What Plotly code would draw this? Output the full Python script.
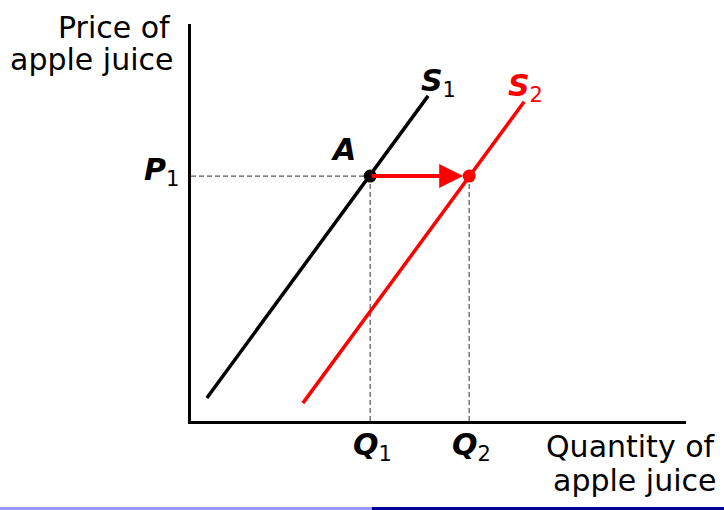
import plotly.graph_objects as go

# supply curves (quantity, price)
s1_q = [0.32, 4.79]
s1_p = [0.58, 8.19]
s2_q = [2.26, 6.73]
s2_p = [0.45, 8.04]

q1 = 3.62
q2 = 5.62
p1 = 6.17

W, H = 724, 510
L, R, T, B = 191, 38, 24, 89
PW, PH = W - L - R, H - T - B


def px_x(x):
    return (x - L) / PW


def px_y(y):
    return (H - B - y) / PH


FONT = "DejaVu Sans"
GRAY = "#555555"

fig = go.Figure()

# dashed guides
dash = dict(color=GRAY, width=1.2, dash="5px,3px")
fig.add_trace(go.Scatter(x=[0, q2], y=[p1, p1], mode="lines", line=dash))
fig.add_trace(go.Scatter(x=[q1, q1], y=[p1, 0], mode="lines", line=dash))
fig.add_trace(go.Scatter(x=[q2, q2], y=[p1, 0], mode="lines", line=dash))

# supply curves
fig.add_trace(go.Scatter(x=s1_q, y=s1_p, mode="lines", line=dict(color="black", width=3.5)))
fig.add_trace(go.Scatter(x=s2_q, y=s2_p, mode="lines", line=dict(color="red", width=3.5)))

# shift arrow
fig.add_annotation(x=q2, y=p1, ax=q1, ay=p1, xref="x", yref="y", axref="x", ayref="y",
                   text="", showarrow=True, arrowhead=2, arrowsize=1.2, arrowwidth=4,
                   arrowcolor="red", standoff=6)

# points
fig.add_trace(go.Scatter(x=[q1], y=[p1], mode="markers", marker=dict(color="black", size=13)))
fig.add_trace(go.Scatter(x=[q2], y=[p1], mode="markers", marker=dict(color="red", size=13)))

lab = dict(family=FONT, size=30, color="black")
fig.add_annotation(x=0, y=p1, xref="x", yref="y", text="<b><i>P</i></b><sub>1</sub>",
                   showarrow=False, xanchor="right", yanchor="middle", xshift=-10, yshift=5, font=lab)
fig.add_annotation(x=q1, y=0, xref="x", yref="y", text="<b><i>Q</i></b><sub>1</sub>",
                   showarrow=False, xanchor="center", yanchor="top", yshift=-4, xshift=2, font=lab)
fig.add_annotation(x=q2, y=0, xref="x", yref="y", text="<b><i>Q</i></b><sub>2</sub>",
                   showarrow=False, xanchor="center", yanchor="top", yshift=-4, xshift=2, font=lab)
fig.add_annotation(x=q1, y=p1, xref="x", yref="y", text="<b><i>A</i></b>",
                   showarrow=False, xanchor="center", yanchor="middle", xshift=-27, yshift=27, font=lab)
fig.add_annotation(x=s1_q[1], y=s1_p[1], xref="x", yref="y", text="<b><i>S</i></b><sub>1</sub>",
                   showarrow=False, xanchor="center", yanchor="bottom", xshift=10, yshift=-8, font=lab)
fig.add_annotation(x=s2_q[1], y=s2_p[1], xref="x", yref="y", text="<b><i>S</i></b><sub>2</sub>",
                   showarrow=False, xanchor="center", yanchor="bottom", xshift=1, yshift=-7,
                   font=dict(family=FONT, size=30, color="red"))

# axis titles, one annotation per line to keep the tight line spacing
ttl = dict(family=FONT, size=30, color="black")
for txt, xr, base in [("Price of", 173, 39), ("apple juice", 175, 71),
                      ("Quantity of", 718, 457), ("apple juice", 718, 491)]:
    fig.add_annotation(x=px_x(xr), y=px_y(base - 11), xref="paper", yref="paper", text=txt,
                       showarrow=False, xanchor="right", yanchor="middle", font=ttl)

# footer bar
fig.add_shape(type="rect", xref="paper", yref="paper", x0=px_x(0), x1=px_x(372),
              y0=px_y(510), y1=px_y(507), fillcolor="#9999ff", line_width=0)
fig.add_shape(type="rect", xref="paper", yref="paper", x0=px_x(372), x1=px_x(724),
              y0=px_y(510), y1=px_y(507), fillcolor="#000099", line_width=0)

axis = dict(range=[0, 10], showline=True, linecolor="black", linewidth=2.5, showgrid=False,
            zeroline=False, showticklabels=False, ticks="", fixedrange=True)
fig.update_xaxes(**axis)
fig.update_yaxes(**axis)
fig.update_layout(width=W, height=H, margin=dict(l=L, r=R, t=T, b=B),
                  plot_bgcolor="white", paper_bgcolor="white", showlegend=False)

fig.write_html("out.html", post_script="document.body.style.margin='0';",
               config={"displayModeBar": False})
